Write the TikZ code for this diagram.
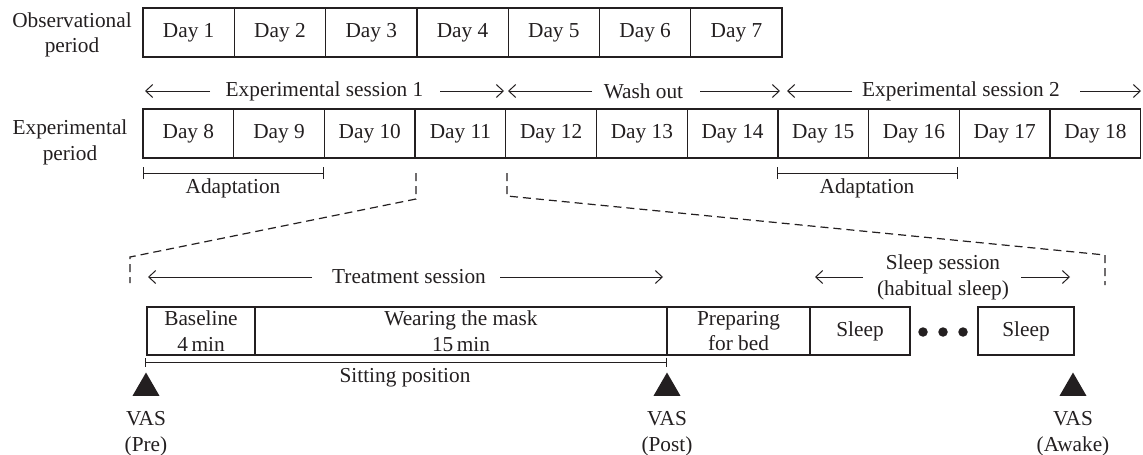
\documentclass[tikz,border=0pt]{standalone}
\usepackage{fontspec}
\setmainfont{Liberation Serif}
\usetikzlibrary{arrows.meta,shapes.geometric}
\definecolor{ink}{HTML}{231F20}
\begin{document}
\begin{tikzpicture}[x=1pt,y=-1pt,
  every node/.style={font=\fontsize{21.3}{25.5}\selectfont, text=ink},
  cell/.style={draw=ink, line width=1.3pt, minimum height=49pt, inner sep=0pt, outer sep=0pt},
  bcell/.style={draw=ink, line width=1.3pt, minimum height=48pt, inner sep=0pt, outer sep=0pt, align=center},
  arr/.style={draw=ink, line width=1pt, -{Straight Barb[length=7pt,width=13pt]}},
  brk/.style={draw=ink, line width=1pt, {Bar[width=12pt]}-{Bar[width=12pt]}},
  dashln/.style={draw=ink, line width=1.2pt, dash pattern=on 8pt off 5pt},
  lbl/.style={align=center, inner sep=0pt},
  vastri/.style={regular polygon, regular polygon sides=3, fill=ink, minimum size=31pt, inner sep=0pt},
  dotn/.style={circle, fill=ink, minimum size=9.5pt, inner sep=0pt}]
\useasboundingbox (0,0) rectangle (1143,455);

% row labels
\node[lbl] (obs) at (72,35) {Observational\\period};
\node[lbl] (exp) at (70,142.5) {Experimental\\period};

% day cells
\foreach \i in {1,...,7} {
  \node[cell, minimum width=91.3pt] (d\i) at ({143+91.3*(\i-0.5)},32.5) {Day \i};
}
\foreach \i in {8,...,18} {
  \node[cell, minimum width=90.7pt] (d\i) at ({143+90.7*(\i-7.5)},133.5) {Day \i};
}

% session arrows
\node[lbl] (es1) at (324.5,91) {Experimental session 1};
\node[lbl] (wash) at (643.5,91) {Wash out};
\node[lbl] (es2) at (961,91) {Experimental session 2};
\coordinate (es1a) at (210,91); \coordinate (es1at) at (145,91);
\coordinate (es1b) at (440,91); \coordinate (es1bt) at (504,91);
\coordinate (wa) at (592,91); \coordinate (wat) at (508,91);
\coordinate (wb) at (700,91); \coordinate (wbt) at (780,91);
\coordinate (es2a) at (852,91); \coordinate (es2at) at (787,91);
\coordinate (es2b) at (1080,91); \coordinate (es2bt) at (1141,91);
\draw[arr] (es1a) -- (es1at);
\draw[arr] (es1b) -- (es1bt);
\draw[arr] (wa) -- (wat);
\draw[arr] (wb) -- (wbt);
\draw[arr] (es2a) -- (es2at);
\draw[arr] (es2b) -- (es2bt);

% adaptation brackets
\coordinate (ad1a) at (143,173); \coordinate (ad1b) at (323.5,173);
\coordinate (ad2a) at (777,173); \coordinate (ad2b) at (958,173);
\draw[brk] (ad1a) -- (ad1b);
\draw[brk] (ad2a) -- (ad2b);
\node[lbl] (adt1) at (233,188) {Adaptation};
\node[lbl] (adt2) at (867,188) {Adaptation};

% dashed zoom lines
\coordinate (z1a) at (416,173); \coordinate (z1b) at (416,199);
\coordinate (z1c) at (130,257); \coordinate (z1d) at (130,283);
\coordinate (z2a) at (507,173); \coordinate (z2b) at (507,196);
\coordinate (z2c) at (1105,255); \coordinate (z2d) at (1105,285);
\draw[dashln] (z1a) -- (z1b) -- (z1c) -- (z1d);
\draw[dashln] (z2a) -- (z2b) -- (z2c) -- (z2d);

% treatment / sleep session arrows
\node[lbl] (ts) at (409,277) {Treatment session};
\coordinate (tsa) at (312,277); \coordinate (tsat) at (148,277);
\coordinate (tsb) at (500,277); \coordinate (tsbt) at (663,277);
\draw[arr] (tsa) -- (tsat);
\draw[arr] (tsb) -- (tsbt);
\node[lbl] (ss) at (943,277.5) {Sleep session\\(habitual sleep)};
\coordinate (ssa) at (863,277); \coordinate (ssat) at (815,277);
\coordinate (ssb) at (1021,277); \coordinate (ssbt) at (1070,277);
\draw[arr] (ssa) -- (ssat);
\draw[arr] (ssb) -- (ssbt);

% bottom boxes
\node[bcell, minimum width=108pt] (base) at (201,331) {Baseline\\4\,min};
\node[bcell, minimum width=412pt] (mask) at (461,331) {Wearing the mask\\15\,min};
\node[bcell, minimum width=143pt] (prep) at (738.5,331) {Preparing\\for bed};
\node[bcell, minimum width=100pt] (sl1) at (860,331) {Sleep};
\node[bcell, minimum width=96pt] (sl2) at (1026,331) {Sleep};
\node[dotn] (dot1) at (923,332) {};
\node[dotn] (dot2) at (943,332) {};
\node[dotn] (dot3) at (963,332) {};

% sitting position bracket
\coordinate (sp1) at (145,362); \coordinate (sp2) at (667,362);
\draw[draw=ink, line width=1pt, {Bar[width=9pt]}-{Bar[width=9pt]}] (sp1) -- (sp2);
\node[lbl] (spt) at (405,378) {Sitting position};

% VAS markers
\node[vastri] (t1) at (146,388) {};
\node[vastri] (t2) at (667,388) {};
\node[vastri] (t3) at (1073,388) {};
\node[lbl] (v1) at (146,433.5) {VAS\\(Pre)};
\node[lbl] (v2) at (667,433.5) {VAS\\(Post)};
\node[lbl] (v3) at (1073,433.5) {VAS\\(Awake)};
\end{tikzpicture}
\end{document}
